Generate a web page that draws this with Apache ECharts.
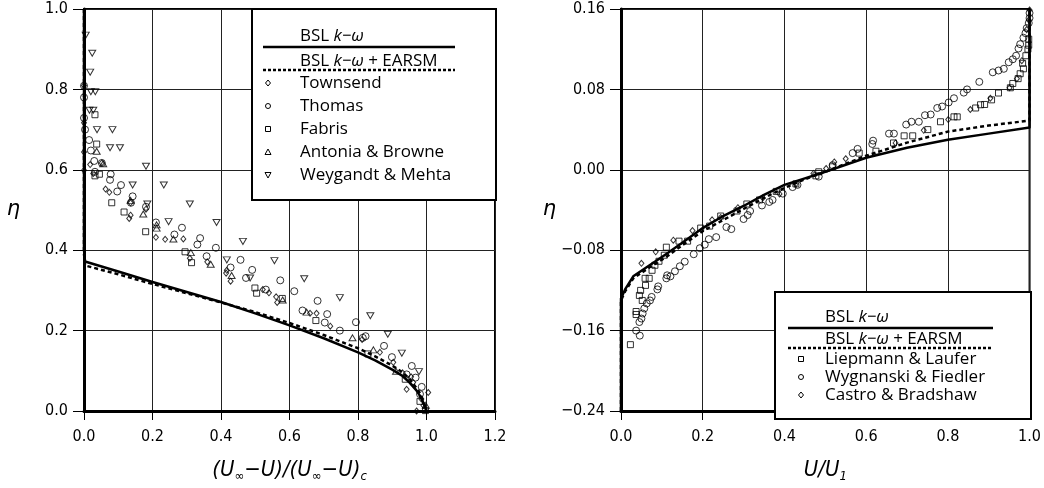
<!DOCTYPE html>
<html><head><meta charset="utf-8">
<script src="https://cdn.jsdelivr.net/npm/echarts@6/dist/echarts.min.js"></script>
<style>html,body{margin:0;padding:0;background:#fff}#c{width:1044px;height:488px}</style>
</head><body><div id="c"></div>
<script>
// ---------- Left panel data: eta vs (Uinf-U)/(Uinf-U)c ----------
const leftSolid = [[0,1.0],[0,0.40],[0.003,0.372],[0.1,0.347],[0.2,0.321],[0.3,0.296],[0.4,0.271],[0.5,0.243],[0.6,0.213],[0.7,0.181],[0.8,0.146],[0.85,0.126],[0.9,0.103],[0.93,0.087],[0.95,0.071],[0.97,0.052],[0.98,0.039],[0.99,0.022],[1.0,0.0]];
const leftDashed = [[0,1.0],[0,0.39],[0.003,0.362],[0.1,0.34],[0.2,0.316],[0.3,0.293],[0.4,0.27],[0.5,0.246],[0.6,0.219],[0.7,0.189],[0.8,0.156],[0.85,0.136],[0.9,0.113],[0.93,0.096],[0.95,0.08],[0.97,0.058],[0.98,0.045],[0.99,0.026],[1.0,0.0]];
const townsend = [[0,0.717],[0,0.644],[0,0.599],[0.018,0.613],[0.027,0.591],[0.052,0.617],[0.063,0.552],[0.074,0.544],[0.136,0.518],[0.181,0.502],[0.132,0.479],[0.136,0.487],[0.21,0.432],[0.237,0.427],[0.29,0.428],[0.309,0.38],[0.36,0.371],[0.415,0.343],[0.428,0.323],[0.417,0.35],[0.522,0.302],[0.54,0.294],[0.561,0.284],[0.564,0.27],[0.66,0.243],[0.679,0.243],[0.719,0.211],[0.812,0.178],[0.864,0.146],[0.903,0.121],[0.942,0.054],[0.961,0.071],[1.005,0.046],[0.971,0.0],[0.991,0.014],[0,0.81],[0.93,0.095],[0.955,0.085],[0.985,0.03]];
const thomas = [[0,0.809],[0,0.78],[0,0.729],[0.003,0.70],[0.015,0.674],[0.02,0.648],[0.03,0.622],[0.052,0.617],[0.032,0.595],[0.078,0.589],[0.076,0.575],[0.108,0.562],[0.097,0.546],[0.142,0.534],[0.137,0.518],[0.181,0.508],[0.21,0.469],[0.286,0.456],[0.264,0.439],[0.339,0.43],[0.331,0.414],[0.385,0.406],[0.358,0.385],[0.457,0.376],[0.428,0.357],[0.491,0.351],[0.473,0.331],[0.573,0.325],[0.614,0.298],[0.531,0.302],[0.682,0.274],[0.638,0.25],[0.71,0.241],[0.703,0.22],[0.794,0.221],[0.822,0.186],[0.876,0.162],[0.899,0.134],[0.957,0.112],[0.968,0.083],[0.942,0.091],[0.986,0.06],[0.981,0.042],[0.747,0.2],[0.814,0.182]];
const fabris = [[0.032,0.737],[0.037,0.664],[0.045,0.589],[0.032,0.585],[0.081,0.518],[0.117,0.495],[0.18,0.446],[0.295,0.396],[0.314,0.369],[0.499,0.306],[0.504,0.293],[0.579,0.28],[0.677,0.225],[0.829,0.142],[0.938,0.079],[0.981,0.024],[0.997,0.001]];
const antonia = [[0.037,0.646],[0.056,0.615],[0.136,0.524],[0.173,0.49],[0.212,0.463],[0.212,0.455],[0.261,0.428],[0.312,0.394],[0.37,0.365],[0.431,0.337],[0.58,0.276],[0.65,0.246],[0.784,0.182],[0.845,0.152],[0.911,0.099],[0.998,0.014]];
const weygandt = [[0.005,0.935],[0.024,0.89],[0.018,0.843],[0.02,0.794],[0.033,0.794],[0.016,0.748],[0.027,0.748],[0.038,0.70],[0.083,0.70],[0.076,0.655],[0.105,0.655],[0.181,0.609],[0.142,0.562],[0.233,0.562],[0.309,0.515],[0.185,0.515],[0.247,0.471],[0.387,0.469],[0.464,0.422],[0.417,0.376],[0.556,0.374],[0.485,0.331],[0.643,0.329],[0.747,0.282],[0.836,0.237],[0.887,0.191],[0.928,0.144],[0.978,0.098]];

// ---------- Right panel data: eta vs U/U1 ----------
const rightSolid = [[0,-0.24],[0,-0.128],[0.01,-0.119],[0.03,-0.106],[0.07,-0.095],[0.11,-0.084],[0.15,-0.0725],[0.2,-0.058],[0.25,-0.046],[0.3,-0.036],[0.35,-0.025],[0.4,-0.015],[0.45,-0.0085],[0.5,-0.002],[0.55,0.005],[0.6,0.012],[0.7,0.022],[0.8,0.030],[0.9,0.036],[1.0,0.042],[1.0,0.16]];
const rightDashed = [[0,-0.24],[0,-0.13],[0.01,-0.121],[0.03,-0.108],[0.07,-0.097],[0.11,-0.087],[0.15,-0.075],[0.2,-0.061],[0.25,-0.05],[0.3,-0.039],[0.35,-0.028],[0.4,-0.018],[0.45,-0.0095],[0.5,-0.002],[0.55,0.006],[0.6,0.014],[0.7,0.027],[0.8,0.038],[0.9,0.044],[1.0,0.049],[1.0,0.16]];
const liepmann = [[0.023,-0.174],[0.037,-0.141],[0.037,-0.144],[0.048,-0.12],[0.045,-0.125],[0.052,-0.13],[0.06,-0.115],[0.059,-0.108],[0.069,-0.108],[0.076,-0.1],[0.083,-0.095],[0.093,-0.091],[0.106,-0.085],[0.111,-0.077],[0.142,-0.071],[0.163,-0.071],[0.195,-0.058],[0.217,-0.056],[0.244,-0.046],[0.284,-0.041],[0.308,-0.034],[0.339,-0.03],[0.38,-0.0215],[0.428,-0.014],[0.477,-0.006],[0.484,-0.002],[0.518,0.003],[0.583,0.0166],[0.624,0.0185],[0.667,0.0267],[0.693,0.0338],[0.714,0.0338],[0.751,0.04],[0.782,0.0478],[0.815,0.0527],[0.823,0.0527],[0.868,0.0615],[0.88,0.0647],[0.89,0.065],[0.907,0.0696],[0.924,0.0764],[0.953,0.0816],[0.959,0.0859],[0.972,0.0907],[0.977,0.0956],[0.985,0.1005],[0.983,0.106],[0.991,0.1135],[0.996,0.12],[0.998,0.124],[0.998,0.13]];
const wygnanski = [[0.037,-0.16],[0.046,-0.165],[0.045,-0.1515],[0.05,-0.148],[0.053,-0.143],[0.057,-0.138],[0.063,-0.133],[0.071,-0.13],[0.075,-0.1265],[0.089,-0.119],[0.091,-0.116],[0.111,-0.108],[0.113,-0.105],[0.121,-0.106],[0.132,-0.101],[0.144,-0.096],[0.156,-0.0914],[0.178,-0.084],[0.193,-0.078],[0.205,-0.0745],[0.215,-0.069],[0.233,-0.067],[0.258,-0.057],[0.27,-0.059],[0.3,-0.049],[0.31,-0.045],[0.316,-0.041],[0.345,-0.0355],[0.363,-0.032],[0.371,-0.03],[0.396,-0.0237],[0.42,-0.0172],[0.432,-0.015],[0.484,-0.0068],[0.518,0.0046],[0.567,0.0166],[0.579,0.0208],[0.615,0.0257],[0.617,0.029],[0.656,0.036],[0.668,0.036],[0.698,0.045],[0.711,0.0478],[0.729,0.0478],[0.744,0.0543],[0.758,0.055],[0.774,0.0615],[0.786,0.063],[0.802,0.067],[0.815,0.0712],[0.839,0.0768],[0.847,0.08],[0.877,0.0875],[0.91,0.097],[0.924,0.0988],[0.937,0.1005],[0.949,0.107],[0.959,0.11],[0.967,0.1135],[0.973,0.1207],[0.977,0.125],[0.985,0.1314],[0.99,0.136],[0.993,0.141],[0.998,0.146],[1.0,0.151],[1.0,0.156]];
const castro = [[0.05,-0.093],[0.085,-0.0816],[0.128,-0.07],[0.175,-0.0605],[0.223,-0.0498],[0.244,-0.0475],[0.286,-0.0377],[0.347,-0.028],[0.388,-0.024],[0.428,-0.014],[0.471,-0.0036],[0.502,0.0013],[0.522,0.0078],[0.55,0.011],[0.672,0.0267],[0.741,0.0393],[0.801,0.05],[0.855,0.06],[0.904,0.0712],[0.951,0.0816],[0.969,0.0907],[0.981,0.1086],[0.993,0.1395],[0.998,0.149],[1.0,0.159]];

const leftLegendNames = ['Townsend','Thomas','Fabris','Antonia & Browne','Weygandt & Mehta'];
const rightLegendNames = ['Liepmann & Laufer','Wygnanski & Fiedler','Castro & Bradshaw'];

const TICK_FONT = "'Liberation Sans Narrow','DejaVu Sans Condensed','Roboto Condensed','Liberation Sans',sans-serif";
const LEG_FONT = "'Open Sans','DejaVu Sans',sans-serif";
const minus = s => s.replace('-', '\u2212');
const fmt1 = v => Math.abs(v) < 1e-9 ? '0.0' : minus(v.toFixed(1));
const fmt2 = v => Math.abs(v) < 1e-9 ? '0.00' : minus(v.toFixed(2));

const TRI_DOWN = 'path://M0,0L10,0L5,9Z';
const TRI_UP = 'path://M5,0L10,9L0,9Z';
const DIAMOND = 'path://M5,0L10,6L5,12L0,6Z';

function axisX(gi, max, name){
  return {gridIndex: gi, type:'value', min:0, max:max, interval:0.2,
    axisLine:{show:true, onZero:false, lineStyle:{color:'#000', width:3}},
    axisTick:{show:true, inside:false, length:9, lineStyle:{color:'#000', width:1}},
    axisLabel:{color:'#000', fontFamily:TICK_FONT, fontSize:16, margin:18, formatter:fmt1},
    splitLine:{show:true, lineStyle:{color:'#222', width:1}},
    name:name, nameLocation:'middle', nameGap:46,
    nameTextStyle:{color:'#000', fontFamily:TICK_FONT, fontSize:22, fontStyle:'italic',
      rich:{
        m:{fontFamily:TICK_FONT, fontSize:22, fontStyle:'italic', lineHeight:26, color:'#000'},
        s:{fontFamily:TICK_FONT, fontSize:13, fontStyle:'italic', lineHeight:26, verticalAlign:'bottom', color:'#000'}
      }}
  };
}
function axisY(gi, min, max, interval, fmt){
  return {gridIndex: gi, type:'value', min:min, max:max, interval:interval,
    axisLine:{show:true, onZero:false, lineStyle:{color:'#000', width:3}},
    axisTick:{show:true, inside:false, length:11, lineStyle:{color:'#000', width:1}},
    axisLabel:{color:'#000', fontFamily:TICK_FONT, fontSize:16, margin:16, formatter:fmt},
    splitLine:{show:true, lineStyle:{color:'#222', width:1}},
    name:'\u03B7', nameLocation:'middle', nameRotate:0, nameGap: gi===0 ? 64 : 58,
    nameTextStyle:{color:'#000', fontFamily:"'DejaVu Sans',sans-serif", fontSize:21, fontStyle:'italic'}
  };
}
function scat(x, y, data, symbol, size){
  return {type:'scatter', xAxisIndex:x, yAxisIndex:y, data:data, symbol:symbol, symbolSize:size,
    itemStyle:{color:'rgba(255,255,255,0)', borderColor:'#000', borderWidth:1}, z:3, silent:true};
}
function line(x, y, data, dash){
  return {type:'line', xAxisIndex:x, yAxisIndex:y, data:data, showSymbol:false, smooth:false,
    lineStyle:{color:'#000', width:2.5, type: dash ? [4,3] : 'solid', join:'round'}, z:4, silent:true};
}

// ---------- legend graphics ----------
const rich = {
  n:{fontFamily:LEG_FONT, fontSize:17, color:'#000'},
  i:{fontFamily:LEG_FONT, fontSize:17, fontStyle:'italic', color:'#000'}
};
function gtext(x, y, t){
  return {type:'text', x:x, y:y, z:100, style:{text:t, rich:rich, fontFamily:LEG_FONT, fontSize:17, fill:'#000', verticalAlign:'middle'}};
}
function gline(x1, x2, y, dash){
  return {type:'line', z:100, shape:{x1:x1, y1:y, x2:x2, y2:y}, style:{stroke:'#000', lineWidth:2.5, lineDash: dash ? [3,2] : null}};
}
function gsym(kind, cx, cy){
  const st = {fill:'#fff', stroke:'#000', lineWidth:1};
  if (kind==='circle') return {type:'circle', z:100, shape:{cx:cx, cy:cy, r:2.5}, style:st};
  if (kind==='square') return {type:'rect', z:100, shape:{x:cx-2.5, y:cy-2.5, width:5, height:5}, style:st};
  if (kind==='diamond') return {type:'polygon', z:100, shape:{points:[[cx,cy-3],[cx+2.5,cy],[cx,cy+3],[cx-2.5,cy]]}, style:st};
  if (kind==='up') return {type:'polygon', z:100, shape:{points:[[cx,cy-3],[cx+3,cy+2.5],[cx-3,cy+2.5]]}, style:st};
  return {type:'polygon', z:100, shape:{points:[[cx-3,cy-2.5],[cx+3,cy-2.5],[cx,cy+3]]}, style:st};
}
const L1 = '{n|BSL }{i|k\u2212\u03C9}';
const L2 = '{n|BSL }{i|k\u2212\u03C9}{n| + EARSM}';
const leftKinds = ['diamond','circle','square','up','down'];
const rightKinds = ['square','circle','diamond'];
const graphics = [
  {type:'rect', z:99, shape:{x:252, y:9, width:244, height:191}, style:{fill:'#fff', stroke:'#000', lineWidth:2}},
  gtext(300, 36, L1), gline(263, 455, 47, false),
  gtext(300, 61, L2), gline(263, 455, 70, true),
  {type:'rect', z:99, shape:{x:775, y:292, width:256, height:127}, style:{fill:'#fff', stroke:'#000', lineWidth:2}},
  gtext(825, 317, L1), gline(788, 993, 328, false),
  gtext(825, 339, L2), gline(788, 993, 348, true)
];
leftLegendNames.forEach((n, k) => { const y = 83 + 23*k; graphics.push(gsym(leftKinds[k], 268, y)); graphics.push(gtext(300, y, '{n|' + n + '}')); });
rightLegendNames.forEach((n, k) => { const y = 359 + 18*k; graphics.push(gsym(rightKinds[k], 801, y)); graphics.push(gtext(825, y, '{n|' + n + '}')); });

const chart = echarts.init(document.getElementById('c'), null, {renderer:'canvas'});
chart.setOption({
  animation:false,
  backgroundColor:'#fff',
  grid:[
    {left:84, top:9, width:411, height:410, show:true, borderColor:'#000', borderWidth:2, backgroundColor:'transparent'},
    {left:621, top:9, width:410, height:410, show:true, borderColor:'#000', borderWidth:2, backgroundColor:'transparent'}
  ],
  xAxis:[
    axisX(0, 1.2, '{m|(U}{s|\u221E}{m|\u2212U)/(U}{s|\u221E}{m|\u2212U)}{s|c}'),
    axisX(1, 1.0, '{m|U/U}{s|1}')
  ],
  yAxis:[
    axisY(0, 0, 1.0, 0.2, fmt1),
    axisY(1, -0.24, 0.16, 0.08, fmt2)
  ],
  series:[
    line(0,0,leftSolid,false), line(0,0,leftDashed,true),
    scat(0,0,townsend,DIAMOND,[5,6]),
    scat(0,0,thomas,'circle',7),
    scat(0,0,fabris,'rect',6),
    scat(0,0,antonia,TRI_UP,[7,6]),
    scat(0,0,weygandt,TRI_DOWN,[7,6]),
    line(1,1,rightSolid,false), line(1,1,rightDashed,true),
    scat(1,1,liepmann,'rect',6),
    scat(1,1,wygnanski,'circle',7),
    scat(1,1,castro,DIAMOND,[5,6])
  ],
  graphic: graphics
});
</script></body></html>
